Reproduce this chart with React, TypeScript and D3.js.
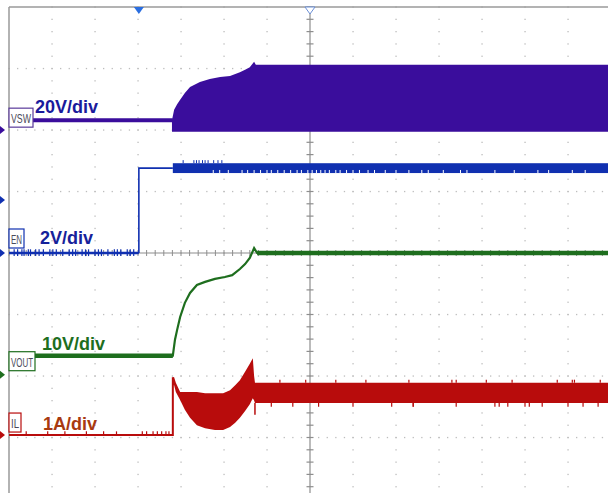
import * as d3 from "d3";

const width = 608;
const height = 493;

// graticule: 14 x 8 divisions, 5 minor ticks per division
const timeDomain = [0, 14];
const divDomain = [-4, 4];
const minorStep = 0.2;

// VSW (20V/div), levels in divisions from centre
const vswLow = 2.16;
const vswFloor = 1.97;
const vswStart = 3.81;
const vswTop: [number, number][] = [
  [3.79, 2.16], [3.84, 2.33], [3.91, 2.42], [3.98, 2.49], [4.09, 2.6],
  [4.21, 2.7], [4.44, 2.78], [4.67, 2.83], [4.91, 2.86], [5.14, 2.88],
  [5.37, 2.94], [5.49, 2.98], [5.6, 3.02], [5.7, 3.11], [5.74, 3.06], [14, 3.06],
];

// EN (2V/div)
const enTrace: [number, number][] = [[0, 0], [3.02, 0], [3.02, 1.38], [3.81, 1.38]];
const enBandStart = 3.81;
const enBandHi = 1.46;
const enBandLo = 1.3;
const enBaseTicks = [
  0.12, 0.2, 0.3, 0.35, 0.45, 0.5, 0.62, 0.7, 0.8, 0.95, 1.02, 1.1, 1.25, 1.4, 1.48, 1.55,
  1.7, 1.78, 1.85, 2.0, 2.08, 2.15, 2.3, 2.45, 2.52, 2.6, 2.75, 2.82, 2.9,
];
const enSpikesUp = [4.05, 4.3, 4.36, 4.42, 4.5, 4.56, 4.63, 4.76, 4.86, 4.95];
const enNotches = [
  4.75, 4.9, 5.1, 5.42, 5.55, 5.7, 5.85, 6.0, 6.1, 6.25, 6.4, 6.55, 6.7, 6.8, 6.95, 7.05,
  7.15, 7.25, 7.35, 7.45, 7.6, 7.7, 7.85, 8.0, 8.15, 8.35, 8.5, 8.75, 9.0, 9.3, 9.6,
  9.75, 10.1, 10.5, 10.65, 11.3, 11.75, 12.3, 12.55, 13.1, 13.4,
];

// VOUT (10V/div)
const voutTrace: [number, number][] = [
  [0, -1.67], [3.81, -1.67], [3.86, -1.41], [3.91, -1.25], [3.98, -1.04],
  [4.09, -0.81], [4.21, -0.65], [4.37, -0.52], [4.56, -0.47], [4.79, -0.42],
  [5.02, -0.39], [5.19, -0.36], [5.37, -0.26], [5.49, -0.18], [5.6, -0.08],
  [5.7, 0.08], [5.77, 0], [14, 0],
];

// IL (1A/div): [time, top, bottom]
const ilBase: [number, number][] = [[0, -2.96], [3.81, -2.96], [3.81, -2.02]];
const ilEnvelope: [number, number, number][] = [
  [3.81, -2.02, -2.15], [3.84, -2.02, -2.15], [3.88, -2.11, -2.26], [3.98, -2.26, -2.39],
  [4.09, -2.26, -2.55], [4.21, -2.26, -2.68], [4.37, -2.26, -2.8], [4.56, -2.28, -2.85],
  [4.79, -2.28, -2.88], [4.98, -2.28, -2.88], [5.14, -2.23, -2.83], [5.26, -2.15, -2.76],
  [5.37, -2.07, -2.68], [5.49, -1.93, -2.57], [5.6, -1.8, -2.46], [5.67, -1.71, -2.36],
  [5.7, -2.0, -2.4], [5.72, -2.11, -2.44], [14, -2.11, -2.44],
];
const ilDip: [number, number][] = [[5.72, -2.44], [5.72, -2.63]];
const ilBaseSpikes = [0.4, 0.9, 1.3, 1.8, 2.2, 2.5, 3.1, 3.2, 3.35, 3.45, 3.55, 3.65, 3.72];
const ilSpikesUp = [6.3, 6.9, 7.6, 8.3, 9.3, 10.3, 10.4, 11.1, 11.7, 12.75, 13.1, 13.15, 13.75];
const ilSpikesDown = [6.1, 6.6, 7.2, 8.0, 8.9, 9.4, 9.4, 10.4, 11.3, 11.4, 11.6, 12.0, 12.1, 12.4, 13.0, 13.35, 13.7];

// left channel markers (division levels)
const markerLevels = [2.0, 0.86, 0, -1.98, -2.96];
const markerColors = ["#3a0d9c", "#1030b0", "#1030b0", "#1e6e1e", "#b80c0c"];

const trigTime = 3.02;

const x = d3.scaleLinear().domain(timeDomain).range([9, 611]);
const y = d3.scaleLinear().domain(divDomain).range([499, 7]);

const line = d3.line<[number, number]>().x((d) => x(d[0])).y((d) => y(d[1]));

const gridGray = "#bdbdbd";
const axisGray = "#8e8e8e";

export default function App() {
  const rows = [-3, -2, -1, 1, 2, 3];
  const cols = d3.range(1, 14).filter((c) => c !== 7);
  const tSteps = d3.range(0, 14.001, minorStep);
  const vSteps = d3.range(-4, 4.001, minorStep);

  const vswArea = d3
    .area<[number, number]>()
    .x((d) => x(d[0]))
    .y0(y(vswFloor))
    .y1((d) => y(d[1]));

  const ilArea = d3
    .area<[number, number, number]>()
    .x((d) => x(d[0]))
    .y0((d) => y(d[2]))
    .y1((d) => y(d[1]));

  const font = "'Liberation Sans', Arial, sans-serif";

  const box = (label: string, bx: number, by: number, bw: number, color: string) => (
    <g>
      <rect x={bx} y={by} width={bw} height={19} fill="#fff" stroke={color} strokeWidth={1.2} />
      <text
        x={bx + bw / 2}
        y={by + 15}
        textAnchor="middle"
        fontFamily={font}
        fontSize={13}
        fill="#4a4a5a"
        textLength={bw - 4}
        lengthAdjust="spacingAndGlyphs"
      >
        {label}
      </text>
    </g>
  );

  return (
    <svg
      width={width}
      height={height}
      style={{ position: "absolute", left: 0, top: 0, background: "#fff" }}
    >
      {/* dotted graticule */}
      {rows.map((r) =>
        tSteps.map((t, i) => (
          <rect key={`r${r}-${i}`} x={x(t) - 0.6} y={y(r) - 0.6} width={1.3} height={1.3} fill={gridGray} />
        ))
      )}
      {cols.map((c) =>
        vSteps.map((v, i) => (
          <rect key={`c${c}-${i}`} x={x(c) - 0.6} y={y(v) - 0.6} width={1.3} height={1.3} fill={gridGray} />
        ))
      )}

      {/* centre axes with minor ticks */}
      <line x1={x(0)} x2={width} y1={y(0)} y2={y(0)} stroke={axisGray} strokeWidth={1.2} />
      <line x1={x(7)} x2={x(7)} y1={y(4)} y2={height} stroke={axisGray} strokeWidth={1.2} />
      {tSteps.map((t, i) => (
        <line key={`ht${i}`} x1={x(t)} x2={x(t)} y1={y(0) - 3} y2={y(0) + 3} stroke={axisGray} strokeWidth={1} />
      ))}
      {vSteps.map((v, i) => (
        <line key={`vt${i}`} x1={x(7) - 3.5} x2={x(7) + 3.5} y1={y(v)} y2={y(v)} stroke={axisGray} strokeWidth={1.2} />
      ))}

      {/* border */}
      <line x1={x(0)} x2={width} y1={y(4)} y2={y(4)} stroke="#9a9a9a" strokeWidth={1.5} />
      <line x1={x(0)} x2={x(0)} y1={y(4)} y2={height} stroke="#9a9a9a" strokeWidth={1.5} />

      {/* VSW */}
      <path d={line([[0, vswLow], [vswStart, vswLow]])!} stroke="#3a0d9c" strokeWidth={4} fill="none" />
      <path d={vswArea(vswTop)!} fill="#3a0d9c" />

      {/* EN */}
      <path d={line(enTrace.slice(0, 2))!} stroke="#1030b0" strokeWidth={2.5} fill="none" />
      <path d={line(enTrace.slice(1))!} stroke="#1030b0" strokeWidth={1.6} fill="none" />
      {enBaseTicks.map((t, i) => (
        <line key={`eb${i}`} x1={x(t)} x2={x(t)} y1={y(0.06)} y2={y(-0.05)} stroke="#1030b0" strokeWidth={1.2} />
      ))}
      <rect
        x={x(enBandStart)}
        y={y(enBandHi)}
        width={x(14) - x(enBandStart)}
        height={y(enBandLo) - y(enBandHi)}
        fill="#1030b0"
      />
      {enSpikesUp.map((t, i) => (
        <line key={`eu${i}`} x1={x(t)} x2={x(t)} y1={y(enBandHi)} y2={y(enBandHi + 0.05)} stroke="#1030b0" strokeWidth={1} />
      ))}
      {enNotches.map((t, i) => (
        <line key={`en${i}`} x1={x(t)} x2={x(t)} y1={y(enBandLo)} y2={y(enBandLo + 0.05)} stroke="#fff" strokeWidth={1} />
      ))}

      {/* VOUT */}
      <path d={line(voutTrace)!} stroke="#1e6e1e" strokeWidth={2.2} fill="none" />
      <path d={line(voutTrace.slice(0, 2))!} stroke="#1e6e1e" strokeWidth={4.5} fill="none" />
      <path d={line(voutTrace.slice(-2))!} stroke="#1e6e1e" strokeWidth={4.5} fill="none" />

      {/* IL */}
      <path d={line(ilBase)!} stroke="#b80c0c" strokeWidth={2} fill="none" />
      {ilBaseSpikes.map((t, i) => (
        <line key={`ib${i}`} x1={x(t)} x2={x(t)} y1={y(-2.96)} y2={y(-2.9)} stroke="#b80c0c" strokeWidth={1.2} />
      ))}
      <path d={ilArea(ilEnvelope)!} fill="#b80c0c" />
      <path d={line(ilDip)!} stroke="#b80c0c" strokeWidth={1.5} fill="none" />
      {ilSpikesUp.map((t, i) => (
        <line key={`iu${i}`} x1={x(t)} x2={x(t)} y1={y(-2.11)} y2={y(-2.06)} stroke="#b80c0c" strokeWidth={1.2} />
      ))}
      {ilSpikesDown.map((t, i) => (
        <line key={`id${i}`} x1={x(t)} x2={x(t)} y1={y(-2.44)} y2={y(-2.5)} stroke="#b80c0c" strokeWidth={1.2} />
      ))}

      {/* channel boxes and scale labels */}
      {box("VSW", x(0), y(vswLow) - 12, 24, "#5a3a9a")}
      {box("EN", x(0), y(0) - 24, 15, "#1030b0")}
      {box("VOUT", x(0), y(-1.67) - 4, 26, "#1e6e1e")}
      {box("IL", x(0), y(-2.96) - 22, 12, "#b80c0c")}

      <text x={35} y={y(vswLow) - 7} fontFamily={font} fontWeight="bold" fontSize={18} fill="#1a1a9c">20V/div</text>
      <text x={40} y={y(0) - 9} fontFamily={font} fontWeight="bold" fontSize={18} fill="#16229a">2V/div</text>
      <text x={42} y={y(-1.67) - 6} fontFamily={font} fontWeight="bold" fontSize={18} fill="#1e6e1e">10V/div</text>
      <text x={43} y={y(-2.96) - 5} fontFamily={font} fontWeight="bold" fontSize={18} fill="#a83a10">1A/div</text>

      {/* left ground / level markers */}
      {markerLevels.map((v, i) => (
        <path key={`m${i}`} d={`M0,${y(v) - 4}L5,${y(v)}L0,${y(v) + 4}Z`} fill={markerColors[i]} />
      ))}

      {/* trigger position and centre markers */}
      <path d={`M${x(trigTime) - 5},${y(4)}L${x(trigTime) + 5},${y(4)}L${x(trigTime)},${y(4) + 7}Z`} fill="#2a6ee0" />
      <path
        d={`M${x(7) - 5},${y(4)}L${x(7) + 5},${y(4)}L${x(7)},${y(4) + 7}Z`}
        fill="#fff"
        stroke="#6b8fd6"
        strokeWidth={1}
      />
    </svg>
  );
}
